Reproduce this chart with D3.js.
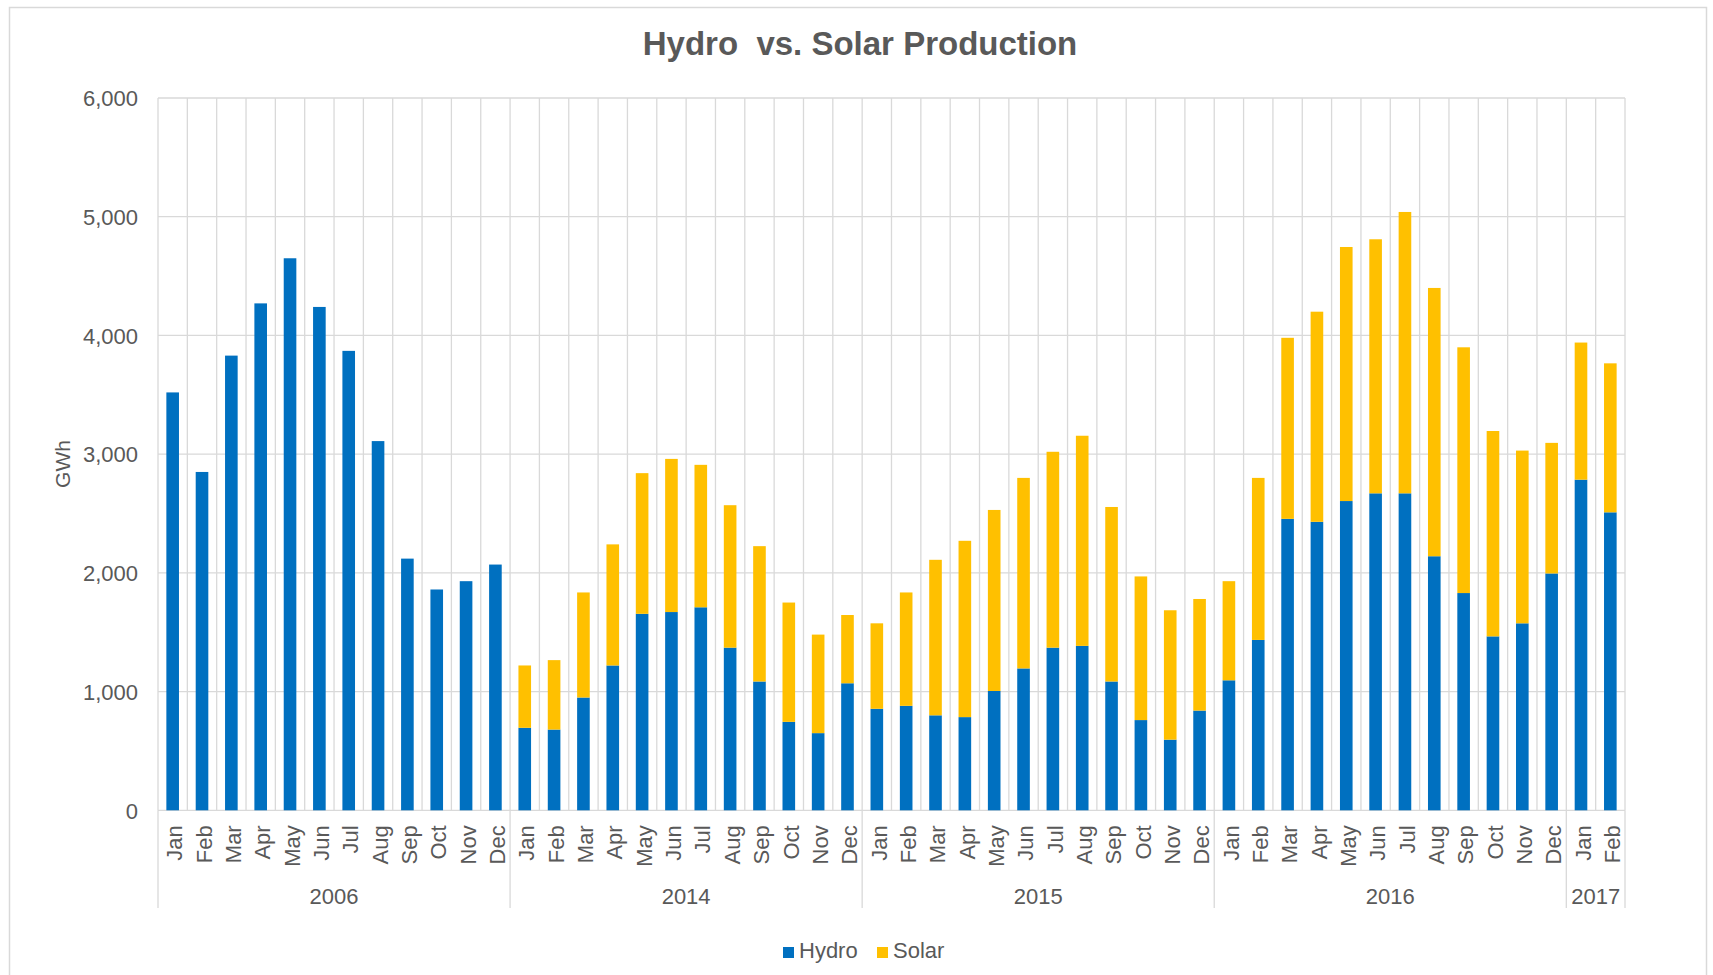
<!DOCTYPE html>
<html>
<head>
<meta charset="utf-8">
<script src="https://cdn.jsdelivr.net/npm/d3@7"></script>
<style>
  html, body { margin: 0; padding: 0; background: #fff; }
  svg { display: block; font-family: "Liberation Sans", Arial, sans-serif; }
</style>
</head>
<body>
<svg id="chart" width="1713" height="975"></svg>
<script>
// ---- Data ----
const monthNames = ["Jan","Feb","Mar","Apr","May","Jun","Jul","Aug","Sep","Oct","Nov","Dec"];
const years = ["2006", "2014", "2015", "2016", "2017"];
const monthsPerYear = [12, 12, 12, 12, 2];

const hydro2006 = [3520, 2850, 3830, 4270, 4650, 4240, 3870, 3110, 2120, 1860, 1930, 2070];
const solar2006 = [0, 0, 0, 0, 0, 0, 0, 0, 0, 0, 0, 0];
const hydro2014 = [695, 680, 950, 1220, 1655, 1670, 1710, 1370, 1085, 745, 650, 1070];
const solar2014 = [525, 585, 885, 1020, 1185, 1290, 1200, 1200, 1140, 1005, 830, 575];
const hydro2015 = [855, 880, 800, 785, 1005, 1195, 1370, 1385, 1085, 760, 595, 840];
const solar2015 = [720, 955, 1310, 1485, 1525, 1605, 1650, 1770, 1470, 1210, 1090, 940];
const hydro2016 = [1095, 1435, 2455, 2430, 2605, 2670, 2670, 2140, 1830, 1465, 1575, 1995];
const solar2016 = [835, 1365, 1525, 1770, 2140, 2140, 2370, 2260, 2070, 1730, 1455, 1100];
const hydro2017 = [2785, 2510];
const solar2017 = [1155, 1255];

const yTicks = [0, 1000, 2000, 3000, 4000, 5000, 6000];
const seriesNames = ["Hydro", "Solar"];
const seriesColors = ["#0070C0", "#FFC000"];

const hydroByYear = [hydro2006, hydro2014, hydro2015, hydro2016, hydro2017];
const solarByYear = [solar2006, solar2014, solar2015, solar2016, solar2017];

// ---- Build table ----
const rows = [];
years.forEach((yr, yi) => {
  for (let m = 0; m < monthsPerYear[yi]; m++) {
    rows.push({ key: yr + "-" + m, year: yr, month: monthNames[m],
      Hydro: hydroByYear[yi][m], Solar: solarByYear[yi][m] });
  }
});

// ---- Layout ----
const svg = d3.select("#chart");
const plotLeft = 158, plotRight = 1625, plotTop = 98, plotBottom = 810.3;
const textColor = "#595959";
const gridColor = "#D9D9D9";

// chart border
svg.append("rect").attr("x", 9.5).attr("y", 7.5).attr("width", 1697).attr("height", 1000)
  .attr("fill", "none").attr("stroke", gridColor).attr("stroke-width", 1.5);

const x = d3.scaleBand().domain(rows.map(d => d.key)).range([plotLeft, plotRight]).paddingInner(0).paddingOuter(0);
const y = d3.scaleLinear().domain([0, 6000]).range([plotBottom, plotTop]);
const barW = x.bandwidth() * 0.43;

// horizontal gridlines
svg.append("g").selectAll("line").data(yTicks).join("line")
  .attr("x1", plotLeft).attr("x2", plotRight)
  .attr("y1", d => y(d)).attr("y2", d => y(d))
  .attr("stroke", gridColor).attr("stroke-width", 1.3);

// vertical gridlines at category boundaries
const boundaries = rows.map(d => x(d.key)).concat([plotRight]);
svg.append("g").selectAll("line").data(boundaries).join("line")
  .attr("x1", d => d).attr("x2", d => d)
  .attr("y1", plotTop).attr("y2", plotBottom)
  .attr("stroke", gridColor).attr("stroke-width", 1.3);

// y axis labels
const yAxis = d3.axisLeft(y).tickValues(yTicks).tickFormat(d3.format(",")).tickSize(0).tickPadding(0);
const gy = svg.append("g").attr("transform", `translate(${plotLeft - 20},0)`).call(yAxis);
gy.select(".domain").remove();
gy.selectAll("text").attr("fill", textColor).style("font-size", "22px")
  .style("font-family", '"Liberation Sans", Arial, sans-serif').attr("dy", "0.35em");

// y axis title
svg.append("text").attr("transform", "translate(70,464) rotate(-90)")
  .attr("text-anchor", "middle").attr("fill", textColor).style("font-size", "21px").text("GWh");

// stacked bars
const stack = d3.stack().keys(seriesNames);
const stacked = stack(rows);
const gBars = svg.append("g");
stacked.forEach((s, i) => {
  gBars.append("g").attr("fill", seriesColors[i]).selectAll("rect").data(s).join("rect")
    .attr("x", d => x(d.data.key) + (x.bandwidth() - barW) / 2)
    .attr("width", barW)
    .attr("y", d => y(d[1]))
    .attr("height", d => Math.max(0, y(d[0]) - y(d[1])));
});

// month labels
const gx = svg.append("g").attr("transform", `translate(0,${plotBottom})`)
  .call(d3.axisBottom(x).tickSize(0).tickFormat(k => rows.find(r => r.key === k).month));
gx.select(".domain").remove();
gx.selectAll("text")
  .attr("fill", textColor).style("font-size", "22px")
  .style("font-family", '"Liberation Sans", Arial, sans-serif')
  .attr("text-anchor", "end")
  .attr("transform", "rotate(-90)")
  .attr("x", -15).attr("y", 2).attr("dy", "0.35em");

// year groups & dividers
let idx = 0;
const groupEdges = [plotLeft];
years.forEach((yr, yi) => {
  const firstKey = rows[idx].key;
  idx += monthsPerYear[yi];
  const x0 = x(firstKey);
  const x1 = idx < rows.length ? x(rows[idx].key) : plotRight;
  groupEdges.push(x1);
  svg.append("text").attr("x", (x0 + x1) / 2).attr("y", 904)
    .attr("text-anchor", "middle").attr("fill", textColor).style("font-size", "22px").text(yr);
});
svg.append("g").selectAll("line").data(groupEdges).join("line")
  .attr("x1", d => d).attr("x2", d => d).attr("y1", plotBottom).attr("y2", 908)
  .attr("stroke", gridColor).attr("stroke-width", 1.3);

// title
svg.append("text").attr("x", 860).attr("y", 55).attr("text-anchor", "middle")
  .attr("fill", textColor).style("font-size", "33px").style("font-weight", "bold")
  .style("white-space", "pre")
  .text("Hydro  vs. Solar Production");

// legend
const legend = svg.append("g");
const legendItems = [{ name: "Hydro", x: 783 }, { name: "Solar", x: 877 }];
legendItems.forEach((it, i) => {
  legend.append("rect").attr("x", it.x).attr("y", 947).attr("width", 11).attr("height", 11)
    .attr("fill", seriesColors[i]);
  legend.append("text").attr("x", it.x + 16).attr("y", 958).attr("fill", textColor)
    .style("font-size", "22px").text(it.name);
});
</script>
</body>
</html>
